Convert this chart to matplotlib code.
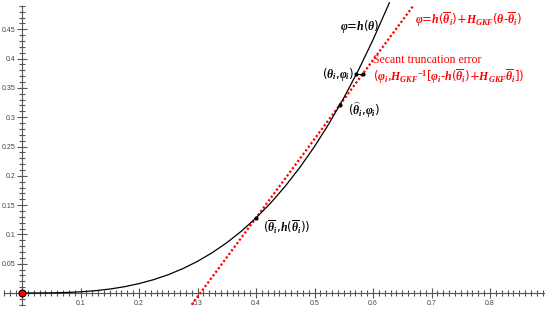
import matplotlib
matplotlib.use('Agg')
import matplotlib.pyplot as plt
from matplotlib.ticker import FixedLocator
import numpy as np

plt.rcParams['mathtext.fontset'] = 'custom'
plt.rcParams['mathtext.it'] = 'Liberation Serif:bold:italic'
plt.rcParams['mathtext.rm'] = 'Liberation Serif:bold'
plt.rcParams['mathtext.bf'] = 'Liberation Serif:bold'

# curve phi = h(theta)
theta = [0, 0.025, 0.05, 0.075, 0.1, 0.125, 0.15, 0.175, 0.2, 0.225, 0.25, 0.275,
         0.3, 0.325, 0.35, 0.375, 0.4, 0.425, 0.45, 0.475, 0.5, 0.525, 0.55,
         0.575, 0.6, 0.628]
phi = [0, 0.00003, 0.00025, 0.00084, 0.002, 0.0039, 0.00675, 0.0107, 0.016, 0.0228,
       0.03125, 0.0416, 0.054, 0.0687, 0.08575, 0.1055, 0.128, 0.1535, 0.18225,
       0.2143, 0.25, 0.2894, 0.33275, 0.3802, 0.432, 0.4953]

# secant line ends
sec_theta = [0.29, 0.668]
sec_phi = [-0.02, 0.489]

# marked points
pt_bar = (0.4, 0.128)
pt_hat = (0.5436, 0.321)
pt_i = (0.5717, 0.3737)
pt_sec = (0.5826, 0.3737)

x_major = [0.1, 0.2, 0.3, 0.4, 0.5, 0.6, 0.7, 0.8]
y_major = [0.05, 0.1, 0.15, 0.2, 0.25, 0.3, 0.35, 0.4, 0.45]

fig = plt.figure(figsize=(5.5, 3.13), dpi=100)
ax = fig.add_axes([0, 0, 1, 1])
ax.set_xlim(-22 / 585, 528 / 585)
ax.set_ylim(-20 / 586, 293 / 586)

axcol = '#555555'
for s in ['top', 'right']:
    ax.spines[s].set_visible(False)
ax.spines['left'].set_position(('data', 0))
ax.spines['bottom'].set_position(('data', 0))
ax.spines['left'].set_bounds(-0.0205, 0.49)
ax.spines['bottom'].set_bounds(-0.031, 0.892)
ax.spines['left'].set_color(axcol)
ax.spines['bottom'].set_color(axcol)

ax.xaxis.set_major_locator(FixedLocator(x_major))
ax.yaxis.set_major_locator(FixedLocator(y_major))
ax.xaxis.set_minor_locator(FixedLocator(np.round(np.arange(-0.03, 0.895, 0.01), 2)))
ax.yaxis.set_minor_locator(FixedLocator(np.round(np.arange(-0.02, 0.495, 0.01), 2)))
ax.set_xticklabels([str(v) for v in x_major], family='Liberation Sans')
ax.set_yticklabels([str(v) for v in y_major], family='Liberation Sans')
ax.tick_params(which='both', direction='inout', color=axcol, width=0.8)
ax.tick_params(which='major', length=6.5, labelsize=5, labelcolor='#444444', pad=1.5)
ax.tick_params(which='minor', length=4.5)

ax.plot(theta, phi, color='black', lw=0.9, zorder=3)
ax.plot(sec_theta, sec_phi, color='red', lw=1.6, ls=(0, (1, 1)), zorder=2)

ax.plot([pt_i[0], pt_sec[0]], [pt_i[1], pt_sec[1]], color='black', lw=0.8, zorder=4)
for p in [pt_bar, pt_hat, pt_i, pt_sec]:
    ax.plot(p[0], p[1], 'o', color='black', ms=2, zorder=5)
ax.plot(0, 0, 'o', color='red', mec='black', mew=0.8, ms=5, zorder=6)

fs = 8.5
ax.text(0.5436, 0.454, r'$\varphi$=$h$($\theta$)', fontsize=fs, color='black',
        ha='left', va='center')
ax.text(0.672, 0.466, r'$\varphi$=$h$($\overline{\theta}_i$)+$H_{GKF}$($\theta$-$\overline{\theta}_i$)',
        fontsize=fs, color='red', ha='left', va='center')
ax.text(0.600, 0.3976, 'Secant truncation error', fontsize=fs, color='red',
        family='Liberation Serif', ha='left', va='center')
ax.text(0.600, 0.3686,
        r'($\varphi_i$,$H_{GKF}{}^{-1}$[$\varphi_i$-$h$($\overline{\theta}_i$)+$H_{GKF}\overline{\theta}_i$])',
        fontsize=fs, color='red', ha='left', va='center')
ax.text(0.5128, 0.3737, r'($\theta_i$,$\varphi_i$)', fontsize=fs, color='black',
        ha='left', va='center')
ax.text(0.557, 0.312, r'($\widehat{\theta}_i$,$\varphi_i$)', fontsize=fs, color='black',
        ha='left', va='center')
ax.text(0.412, 0.1126, r'($\overline{\theta}_i$,$h$($\overline{\theta}_i$))', fontsize=fs,
        color='black', ha='left', va='center')

fig.savefig('out.png', dpi=100)
